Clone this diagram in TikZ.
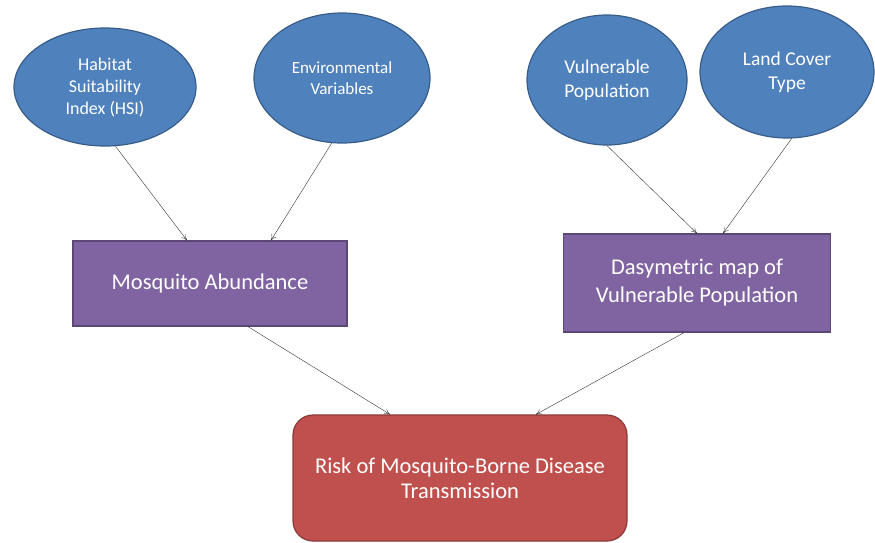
\documentclass[tikz,border=0pt]{standalone}
\usepackage{fontspec}
\setmainfont{Carlito}
\usepackage{tikz}
\usetikzlibrary{positioning, arrows.meta, shapes.geometric}

\definecolor{ovalfill}{HTML}{4F81BD}
\definecolor{ovaldraw}{HTML}{385D8A}
\definecolor{boxfill}{HTML}{8064A2}
\definecolor{boxdraw}{HTML}{5C4776}
\definecolor{riskfill}{HTML}{C0504D}
\definecolor{riskdraw}{HTML}{8C3836}

\begin{document}
\begin{tikzpicture}[
    x=1pt, y=-1pt,
    oval/.style={ellipse, draw=ovaldraw, fill=ovalfill, line width=1.2pt, text=white, align=center, font=\fontsize{19.5}{24}\selectfont, inner sep=0pt},
    layer/.style={rectangle, draw=boxdraw, fill=boxfill, line width=1.2pt, text=white, align=center, font=\fontsize{22.5}{28}\selectfont},
    outcome/.style={rectangle, rounded corners=20pt, draw=riskdraw, fill=riskfill, line width=1.2pt, text=white, align=center, font=\fontsize{22.5}{25}\selectfont},
    arrow/.style={-{To[length=2mm, width=2mm]}, thin, black!80}
]
\useasboundingbox (0,0) rectangle (875,542);

\node[oval, minimum width=182pt, minimum height=118pt, font=\fontsize{18}{22}\selectfont] (hsi) at (105,87) {Habitat\\Suitability\\Index (HSI)};
\node[oval, minimum width=176pt, minimum height=130pt, font=\fontsize{17}{21}\selectfont] (env) at (342,78) {Environmental\\Variables};
\node[oval, minimum width=160pt, minimum height=130pt] (vul) at (607,80) {Vulnerable\\Population};
\node[oval, minimum width=174pt, minimum height=132pt] (land) at (787,72) {Land Cover\\Type};

\node[layer, minimum width=274pt, minimum height=85pt] (abund) at (210,283.5) {Mosquito Abundance};
\node[layer, minimum width=267pt, minimum height=98pt] (dasy) at (697,283) {Dasymetric map of\\Vulnerable Population};

\node[outcome, minimum width=334pt, minimum height=126pt] (risk) at (460,478) {Risk of Mosquito-Borne Disease\\Transmission};

\draw[arrow] (hsi.-80) -- ([xshift=-23pt]abund.north);
\draw[arrow] (env.-99) -- ([xshift=61pt]abund.north);
\draw[arrow] (vul.south) -- (dasy.north);
\draw[arrow] (land.-86) -- ([xshift=26pt]dasy.north);
\draw[arrow] ([xshift=38pt]abund.south) -- ([xshift=-70pt]risk.north);
\draw[arrow] ([xshift=-13pt]dasy.south) -- ([xshift=76pt]risk.north);

\end{tikzpicture}
\end{document}
